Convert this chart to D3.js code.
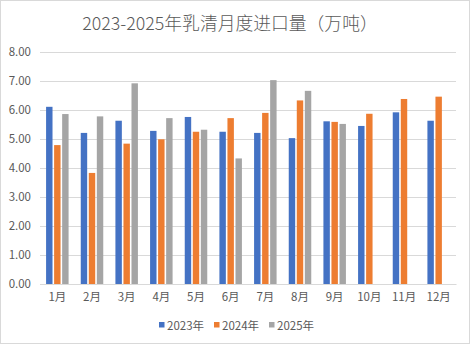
<!DOCTYPE html>
<html><head><meta charset="utf-8">
<script src="https://cdn.jsdelivr.net/npm/d3@7"></script>
<style>body{margin:0;background:#fff;}svg{display:block;}</style>
</head><body>
<svg id="c" width="471" height="345"></svg>
<script>
const months = ["1月","2月","3月","4月","5月","6月","7月","8月","9月","10月","11月","12月"];
const seriesNames = ["2023年","2024年","2025年"];
const v2023 = [6.11,5.21,5.63,5.28,5.76,5.25,5.21,5.03,5.61,5.45,5.92,5.63];
const v2024 = [4.79,3.83,4.84,4.99,5.25,5.72,5.90,6.33,5.59,5.87,6.38,6.46];
const v2025 = [5.86,5.78,6.92,5.72,5.32,4.33,7.03,6.66,5.52,null,null,null];
const yTicks = [0,1,2,3,4,5,6,7,8];
const colors = ["#4472C4","#ED7D31","#A5A5A5"];
const title = "2023-2025年乳清月度进口量（万吨）";

(function(){
const svg = d3.select("#c");
const font = "'Microsoft YaHei','Noto Sans CJK SC',sans-serif";
svg.append("rect").attr("x",0.5).attr("y",0.5).attr("width",469).attr("height",343)
  .attr("fill","#fff").attr("stroke","#D9D9D9").attr("stroke-width",1);

const pl=40, pr=456, pt=52, pb=284;
const x = d3.scaleBand().domain(months).range([pl,pr]);
const y = d3.scaleLinear().domain([0,8]).range([pb,pt]);
const x1 = d3.scaleBand().domain(seriesNames).range([0,22.5]).paddingInner(0.2);

svg.append("text").attr("x",230).attr("y",30).attr("text-anchor","middle")
  .attr("font-family",font).attr("font-size",17.8).attr("font-weight",300).attr("fill","#595959").text(title);

const yAxis = d3.axisLeft(y).tickValues(yTicks).tickFormat(d3.format(".2f")).tickSize(-(pr-pl)).tickPadding(9);
const ga = svg.append("g").attr("transform",`translate(${pl},0)`).call(yAxis);
ga.select(".domain").remove();
ga.selectAll(".tick line").attr("stroke","#D9D9D9");
ga.selectAll(".tick text").attr("fill","#595959").attr("font-size",11.5).attr("font-family",font);

const data = [v2023,v2024,v2025];
const groups = svg.append("g");
months.forEach((m,i)=>{
  const cx = x(m)+x.bandwidth()/2;
  seriesNames.forEach((s,j)=>{
    const v = data[j][i];
    if(v==null) return;
    groups.append("rect").attr("x",cx-11.25+x1(s)).attr("y",y(v))
      .attr("width",x1.bandwidth()).attr("height",y(0)-y(v)).attr("fill",colors[j]);
  });
});

const xAxis = d3.axisBottom(x).tickSize(0).tickPadding(9);
const gx = svg.append("g").attr("transform",`translate(0,${pb})`).call(xAxis);
gx.select(".domain").attr("stroke","#D9D9D9");
gx.selectAll(".tick text").attr("fill","#595959").attr("font-size",11.5).attr("font-family",font);

const lg = svg.append("g");
const lx = [159,214,269];
seriesNames.forEach((s,j)=>{
  lg.append("rect").attr("x",lx[j]).attr("y",322).attr("width",5.5).attr("height",5.5).attr("fill",colors[j]);
  lg.append("text").attr("x",lx[j]+8).attr("y",329.5).attr("font-family",font).attr("font-size",11.5)
    .attr("fill","#595959").text(s);
});
})();
</script>
</body></html>
